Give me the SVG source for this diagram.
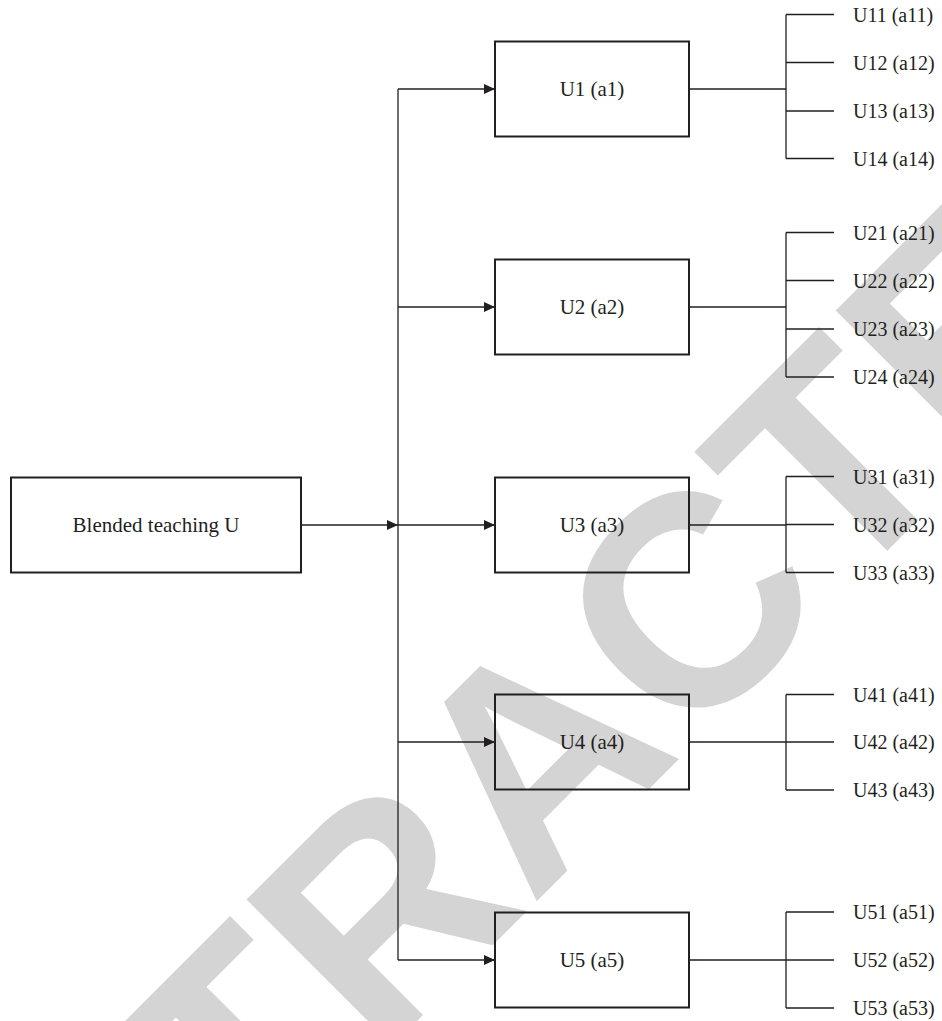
<svg xmlns="http://www.w3.org/2000/svg" width="942" height="1021" viewBox="0 0 942 1021">
<style>
.wm{font-family:"Liberation Sans",Arial,sans-serif;font-weight:bold;font-size:300px;fill:#d4d4d4}
.box{fill:none;stroke:#231f20;stroke-width:2}
.ln{fill:none;stroke:#231f20;stroke-width:1.3}
.lbl{font-family:"Liberation Serif","Times New Roman",serif;font-size:21px;fill:#231f20;text-anchor:middle}
.leaf{font-family:"Liberation Serif","Times New Roman",serif;font-size:20px;fill:#231f20}
</style>
<defs>
<marker id="ah" viewBox="0 0 11 10" refX="11" refY="5" markerWidth="11" markerHeight="10" markerUnits="userSpaceOnUse" orient="auto"><path d="M0,0 L11,5 L0,10 Z" fill="#231f20"/></marker>
</defs>
<rect width="942" height="1021" fill="#ffffff"/>
<text class="wm" transform="translate(-46,1484) rotate(-45)">RETRACTED</text>
<g id="connectors">
<path class="ln" d="M301,525 H398" marker-end="url(#ah)"/>
<path class="ln" d="M398,89 V960"/>
<path class="ln" d="M398,89 H495" marker-end="url(#ah)"/>
<path class="ln" d="M398,307 H495" marker-end="url(#ah)"/>
<path class="ln" d="M398,525 H495" marker-end="url(#ah)"/>
<path class="ln" d="M398,742 H495" marker-end="url(#ah)"/>
<path class="ln" d="M398,960 H495" marker-end="url(#ah)"/>
<path class="ln" d="M689,89 H786 M786,14.5 V158.5 M786,14.5 H834 M786,62.5 H834 M786,111 H834 M786,158.5 H834"/>
<path class="ln" d="M689,307 H786 M786,232.5 V377 M786,232.5 H834 M786,280.5 H834 M786,329 H834 M786,377 H834"/>
<path class="ln" d="M689,525 H786 M786,476.5 V572.5 M786,476.5 H834 M786,524.5 H834 M786,572.5 H834"/>
<path class="ln" d="M689,742 H786 M786,694.5 V790 M786,694.5 H834 M786,742 H834 M786,790 H834"/>
<path class="ln" d="M689,960 H786 M786,912 V1008 M786,912 H834 M786,960 H834 M786,1008 H834"/>
</g>
<g id="node-U"><rect class="box" x="11" y="477.5" width="290" height="95"/><text class="lbl" x="156" y="532">Blended teaching U</text></g>
<g id="node-U1"><rect class="box" x="495" y="41.5" width="194" height="95"/><text class="lbl" x="592" y="96">U1 (a1)</text></g>
<g id="node-U2"><rect class="box" x="495" y="259.5" width="194" height="95"/><text class="lbl" x="592" y="314">U2 (a2)</text></g>
<g id="node-U3"><rect class="box" x="495" y="477.5" width="194" height="95"/><text class="lbl" x="592" y="532">U3 (a3)</text></g>
<g id="node-U4"><rect class="box" x="495" y="694.5" width="194" height="95"/><text class="lbl" x="592" y="749">U4 (a4)</text></g>
<g id="node-U5"><rect class="box" x="495" y="912.5" width="194" height="95"/><text class="lbl" x="592" y="967">U5 (a5)</text></g>
<g id="leaves-U1">
<text class="leaf" x="853" y="21.5">U11 (a11)</text>
<text class="leaf" x="853" y="69.5">U12 (a12)</text>
<text class="leaf" x="853" y="118">U13 (a13)</text>
<text class="leaf" x="853" y="165.5">U14 (a14)</text>
</g>
<g id="leaves-U2">
<text class="leaf" x="853" y="239.5">U21 (a21)</text>
<text class="leaf" x="853" y="287.5">U22 (a22)</text>
<text class="leaf" x="853" y="336">U23 (a23)</text>
<text class="leaf" x="853" y="384">U24 (a24)</text>
</g>
<g id="leaves-U3">
<text class="leaf" x="853" y="483.5">U31 (a31)</text>
<text class="leaf" x="853" y="531.5">U32 (a32)</text>
<text class="leaf" x="853" y="579.5">U33 (a33)</text>
</g>
<g id="leaves-U4">
<text class="leaf" x="853" y="701.5">U41 (a41)</text>
<text class="leaf" x="853" y="749">U42 (a42)</text>
<text class="leaf" x="853" y="797">U43 (a43)</text>
</g>
<g id="leaves-U5">
<text class="leaf" x="853" y="919">U51 (a51)</text>
<text class="leaf" x="853" y="967">U52 (a52)</text>
<text class="leaf" x="853" y="1015">U53 (a53)</text>
</g>
</svg>
